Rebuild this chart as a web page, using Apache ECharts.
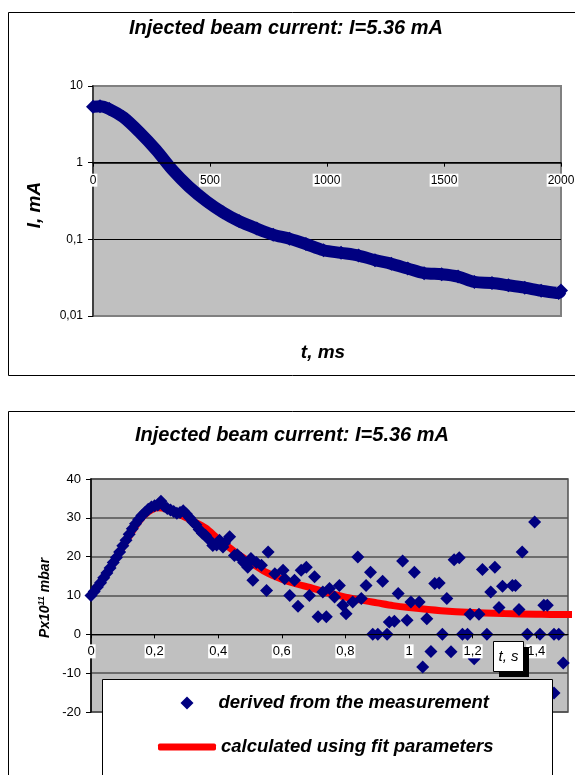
<!DOCTYPE html>
<html><head><meta charset="utf-8">
<script src="https://cdn.jsdelivr.net/npm/echarts@6/dist/echarts.min.js"></script>
<style>html,body{margin:0;padding:0;background:#fff}#c{width:575px;height:775px}</style>
</head><body><div id="c"></div>
<script>
// ---------- data ----------
const titleText = 'Injected beam current: I=5.36 mA';
// top chart: beam current decay (t in ms, I in mA)
const decayT = [0, 30, 70, 130, 200, 270, 340, 410, 485, 555, 625, 700, 770, 840, 910, 985, 1060, 1135, 1205, 1275, 1345, 1415, 1490, 1560, 1630, 1705, 1775, 1845, 1915, 1990, 2000];
const decayI = [5.36, 5.45, 5.0, 3.9, 2.47, 1.46, 0.80, 0.485, 0.314, 0.225, 0.172, 0.138, 0.115, 0.102, 0.087, 0.072, 0.0667, 0.0615, 0.0535, 0.0479, 0.0416, 0.0362, 0.0351, 0.0327, 0.0278, 0.027, 0.0252, 0.0234, 0.0214, 0.0200, 0.0215];
// bottom chart: pressure derived from the measurement (t in s, P x1e-11 mbar)
const measT = [0.00,0.01,0.02,0.03,0.04,0.05,0.06,0.07,0.08,0.09,0.10,0.11,0.12,0.13,0.14,0.15,0.16,0.17,0.18,0.19,0.20,0.21,0.22,0.23,0.24,0.25,0.26,0.27,0.28,0.29,0.30,0.31,0.32,0.33,0.34,0.35,
  0.36,0.37,0.383,0.395,0.404,0.415,0.42,0.436,0.451,0.46,0.472,0.48,0.49,0.493,0.503,0.509,0.52,0.536,0.552,0.557,0.578,0.604,0.609,0.625,0.640,0.651,0.661,0.677,0.687,0.703,0.714,0.729,0.740,0.750,0.766,0.781,0.792,0.802,0.823,0.839,0.850,0.865,0.879,0.886,0.902,0.917,0.931,0.938,0.954,0.966,0.980,0.994,
  1.006,1.017,1.032,1.043,1.056,1.069,1.081,1.095,1.105,1.119,1.132,1.142,1.158,1.168,1.184,1.192,1.205,1.220,1.231,1.245,1.257,1.270,1.283,1.294,1.325,1.335,1.346,1.356,1.372,1.395,1.412,1.424,1.435,1.456,1.471,1.485,1.456];
const measP = [10.0,11.0,12.2,13.3,14.6,15.8,17.1,18.5,19.8,21.2,22.8,24.2,25.8,27.2,28.5,29.6,30.6,31.4,32.2,32.8,33.1,33.3,34.3,33.0,32.4,32.0,31.6,31.2,31.4,31.8,31.0,30.0,29.0,28.2,27.0,26.0,
  25.5,24.5,22.9,23.0,24.2,22.5,23.5,25.1,20.3,20.5,19.5,18.5,18.0,17.3,19.5,13.9,18.5,17.8,11.3,21.2,15.6,16.5,14.3,10.0,13.9,7.2,16.5,17.3,10.0,14.8,4.5,10.9,4.5,11.8,9.6,12.6,7.5,5.3,8.3,19.9,9.2,12.6,16.0,0,0,13.7,0,3.2,3.4,10.5,18.9,3.6,
  8.3,16.0,8.3,-8.4,4.0,-4.4,13.1,13.2,0,9.2,-4.5,19.2,19.7,0,0,5.2,-6.3,5.2,16.7,0,10.9,17.3,6.9,12.4,12.6,12.6,6.4,21.2,0,28.9,0,7.5,7.5,0,0,-7.4,-15.1];
// bottom chart: fit curve
const fitT = [0,0.05,0.10,0.15,0.18,0.21,0.24,0.28,0.32,0.36,0.40,0.45,0.50,0.55,0.60,0.65,0.70,0.75,0.80,0.85,0.90,0.95,1.00,1.10,1.20,1.30,1.40,1.50,1.52];
const fitP = [10,15.6,22.5,29,31.5,32.6,32.2,30.8,29.2,27.4,24.6,21.4,18.6,16.0,14.2,12.9,11.8,10.6,9.6,8.8,8.1,7.4,6.9,6.1,5.6,5.35,5.2,5.1,5.1];
const legendNames = ['derived from the measurement', 'calculated using fit parameters'];
const topXName = 't, ms', topYName = 'I, mA', botXName = 't, s';

// ---------- chart ----------
const FONT = '"Liberation Sans", Arial, sans-serif';
const chart = echarts.init(document.getElementById('c'), null, {renderer: 'canvas'});
const zip = (a, b) => a.map((v, i) => [v, b[i]]);
const comma = v => String(+(+v).toPrecision(4)).replace('.', ',');
const BI = {fontFamily: FONT, fontStyle: 'italic', fontWeight: 'bold', fill: '#000'};
const legendText = {fontFamily: FONT, fontSize: 18.5, fontStyle: 'italic', fontWeight: 'bold', color: '#000', lineHeight: 20};

const option = {
  animation: false,
  backgroundColor: '#fff',
  grid: [
    {left: 93, top: 86, width: 468, height: 230, show: true, backgroundColor: '#c0c0c0', borderColor: '#808080', borderWidth: 2, outerBoundsMode: 'none'},
    {left: 91, top: 479, width: 477, height: 233, show: true, backgroundColor: '#c0c0c0', borderColor: '#505050', borderWidth: 1.5, outerBoundsMode: 'none'}
  ],
  xAxis: [
    {gridIndex: 0, type: 'value', min: 0, max: 2000, interval: 500, z: 3,
     axisLine: {show: true, onZero: false, lineStyle: {color: '#000', width: 1.5}},
     axisTick: {show: true, length: 4, lineStyle: {color: '#000'}},
     splitLine: {show: false},
     axisLabel: {fontFamily: FONT, fontSize: 12, color: '#000', backgroundColor: '#fff', padding: [1, 1, 0, 1], margin: 11,
       formatter: v => String(v)}},
    {gridIndex: 1, type: 'value', min: 0, max: 1.5, interval: 0.2, z: 3,
     axisLine: {show: true, onZero: false, lineStyle: {color: '#000', width: 1}},
     axisTick: {show: true, length: 4, lineStyle: {color: '#000'}},
     splitLine: {show: false},
     axisLabel: {fontFamily: FONT, fontSize: 13, color: '#000', backgroundColor: '#fff', padding: [1, 1, 0, 1], margin: 10,
       showMaxLabel: false, formatter: v => (Math.abs(v - 1.5) < 1e-6 ? '' : comma(Math.round(v * 10) / 10))}}
  ],
  yAxis: [
    {gridIndex: 0, type: 'log', logBase: 10, min: 0.01, max: 10,
     axisLine: {show: true, lineStyle: {color: '#404040', width: 2}},
     axisTick: {show: true, length: 5, lineStyle: {color: '#000'}},
     splitLine: {show: true, lineStyle: {color: ['#808080', '#000', '#000', '#808080'], width: 1}},
     axisLabel: {fontFamily: FONT, fontSize: 12, color: '#000', margin: 10, formatter: v => comma(v)}},
    {gridIndex: 1, type: 'value', min: -20, max: 40, interval: 10,
     axisLine: {show: true, lineStyle: {color: '#000', width: 1.5}},
     axisTick: {show: true, length: 5, lineStyle: {color: '#000'}},
     splitLine: {show: true, lineStyle: {color: '#505050', width: 1.5}},
     axisLabel: {fontFamily: FONT, fontSize: 13, color: '#000', margin: 10}}
  ],
  legend: [
    {data: [{name: legendNames[0], icon: 'diamond'}], left: 180.5, top: 693, padding: 0, z: 6,
     itemWidth: 13, itemHeight: 13, selectedMode: false,
     textStyle: Object.assign({padding: [0, 0, 0, 20]}, legendText)},
    {data: [{name: legendNames[1], icon: 'roundRect'}], left: 158, top: 737, padding: 0, z: 6,
     itemWidth: 58, itemHeight: 7, selectedMode: false, textStyle: legendText}
  ],
  series: [
    {type: 'line', name: 'decay', xAxisIndex: 0, yAxisIndex: 0, data: zip(decayT, decayI), smooth: 0.3,
     symbol: 'diamond', symbolSize: 14, showSymbol: true, clip: false, z: 2,
     lineStyle: {color: '#000080', width: 12}, itemStyle: {color: '#000080', opacity: 1}},
    {type: 'line', name: legendNames[1], xAxisIndex: 1, yAxisIndex: 1, data: zip(fitT, fitP), smooth: 0.3,
     symbol: 'none', clip: false, z: 1, lineStyle: {color: '#ff0000', width: 7, cap: 'round'}, itemStyle: {color: '#ff0000'}},
    {type: 'scatter', name: legendNames[0], xAxisIndex: 1, yAxisIndex: 1, data: zip(measT, measP),
     symbol: 'diamond', symbolSize: 13, z: 2, itemStyle: {color: '#000080', opacity: 1}}
  ],
  graphic: [
    {type: 'rect', z: 0, shape: {x: 8.5, y: 12.5, width: 580, height: 363}, style: {fill: 'none', stroke: '#000', lineWidth: 1}},
    {type: 'rect', z: 0, shape: {x: 8.5, y: 411.5, width: 580, height: 400}, style: {fill: 'none', stroke: '#000', lineWidth: 1}},
    {type: 'text', z: 5, x: 286, y: 28, style: Object.assign({text: titleText, fontSize: 20, align: 'center', verticalAlign: 'middle'}, BI)},
    {type: 'text', z: 5, x: 292, y: 435, style: Object.assign({text: titleText, fontSize: 20, align: 'center', verticalAlign: 'middle'}, BI)},
    {type: 'text', z: 5, x: 35, y: 205, rotation: Math.PI / 2, style: Object.assign({text: topYName, fontSize: 19, align: 'center', verticalAlign: 'middle'}, BI)},
    {type: 'text', z: 5, x: 323, y: 353, style: Object.assign({text: topXName, fontSize: 19, align: 'center', verticalAlign: 'middle'}, BI)},
    {type: 'text', z: 5, x: 45, y: 598, rotation: Math.PI / 2,
     style: Object.assign({text: '{m|Px10}{s|11}{m| mbar}', align: 'center', verticalAlign: 'middle',
       rich: {m: {fontSize: 14, fontFamily: FONT, fontStyle: 'italic', fontWeight: 'bold', lineHeight: 16},
              s: {fontSize: 9, fontFamily: FONT, fontStyle: 'italic', fontWeight: 'bold', verticalAlign: 'top', lineHeight: 16}}}, BI)},
    // legend box
    {type: 'rect', z: 4, shape: {x: 102.5, y: 679.5, width: 450, height: 120}, style: {fill: '#fff', stroke: '#000', lineWidth: 1}},
    // "t, s" axis title box with shadow
    {type: 'rect', z: 5, shape: {x: 499, y: 647, width: 30, height: 30}, style: {fill: '#000'}},
    {type: 'rect', z: 5, shape: {x: 493.5, y: 641.5, width: 30, height: 30}, style: {fill: '#fff', stroke: '#000', lineWidth: 1}},
    {type: 'text', z: 6, x: 508.5, y: 656.5, style: {text: botXName, fontFamily: FONT, fontStyle: 'italic', fontSize: 15, fill: '#000', align: 'center', verticalAlign: 'middle'}}
  ]
};
chart.setOption(option);
// place each chart's x axis where the value axis crosses (Excel: 1 on the log axis, 0 on the linear one)
const y1 = chart.convertToPixel({yAxisIndex: 0}, 1);
const y0 = chart.convertToPixel({yAxisIndex: 1}, 0);
chart.setOption({xAxis: [{offset: -(86 + 230 - y1)}, {offset: -(479 + 233 - y0)}]});
</script></body></html>
